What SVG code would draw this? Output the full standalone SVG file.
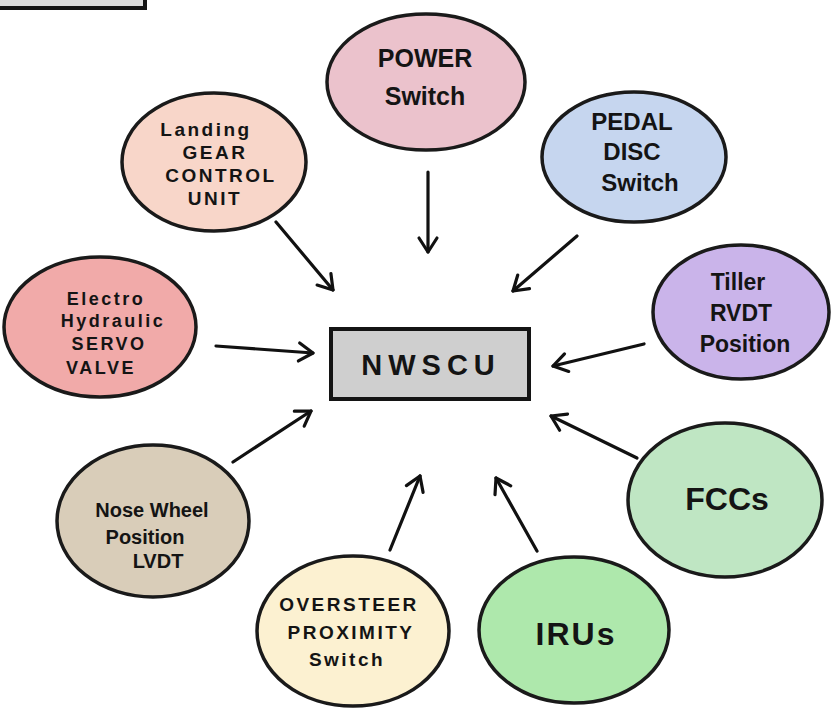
<svg xmlns="http://www.w3.org/2000/svg" width="838" height="708" viewBox="0 0 838 708">
<defs>
<marker id="ah" markerUnits="userSpaceOnUse" markerWidth="24" markerHeight="24" viewBox="0 0 24 24" refX="20" refY="12" orient="auto">
<path d="M6,3 L20,12 L6,21" fill="none" stroke="#111" stroke-width="3.2" stroke-linecap="round" stroke-linejoin="round"/>
</marker>
</defs>
<style>
.n{stroke:#1a1a1a;stroke-width:3.5}
.t{font-family:"Liberation Sans","DejaVu Sans",sans-serif;font-weight:bold;fill:#141414;text-anchor:middle}
.w{letter-spacing:2.5px}
.c{stroke:#111;stroke-width:3.2;fill:none;stroke-linecap:round;marker-end:url(#ah)}
</style>
<rect x="0" y="0" width="838" height="708" fill="#ffffff"/>
<rect x="-6" y="-20" width="151" height="28" fill="#dcdcdc" stroke="#141414" stroke-width="4"/>
<g id="connectors">
<line class="c" x1="276" y1="222" x2="333" y2="290"/>
<line class="c" x1="428" y1="172" x2="428" y2="252"/>
<line class="c" x1="577" y1="236" x2="513" y2="291"/>
<line class="c" x1="644" y1="344" x2="553" y2="366"/>
<line class="c" x1="216" y1="346" x2="313" y2="353"/>
<line class="c" x1="233" y1="462" x2="311" y2="411"/>
<line class="c" x1="390" y1="550" x2="420" y2="476"/>
<line class="c" x1="537" y1="551" x2="496" y2="478"/>
<line class="c" x1="637" y1="458" x2="551" y2="416"/>
</g>
<g id="landing">
<ellipse class="n" cx="214" cy="162" rx="92" ry="69" fill="#f8d6c9"/>
<text class="t w" font-size="19"><tspan x="206" y="136">Landing</tspan><tspan x="215" y="159">GEAR</tspan><tspan x="221" y="182">CONTROL</tspan><tspan x="215" y="205">UNIT</tspan></text>
</g>
<g id="power">
<ellipse class="n" cx="426" cy="82" rx="99" ry="68" fill="#ebc2cc"/>
<text class="t" font-size="25"><tspan x="425" y="67">POWER</tspan><tspan x="425" y="105">Switch</tspan></text>
</g>
<g id="pedal">
<ellipse class="n" cx="634" cy="157" rx="92" ry="65" fill="#c6d6ef"/>
<text class="t" font-size="24"><tspan x="632" y="130">PEDAL</tspan><tspan x="632" y="160">DISC</tspan><tspan x="640" y="191">Switch</tspan></text>
</g>
<g id="electro">
<ellipse class="n" cx="100" cy="327" rx="96" ry="70" fill="#f1aaa9"/>
<text class="t w" font-size="18"><tspan x="106" y="305">Electro</tspan><tspan x="113" y="327">Hydraulic</tspan><tspan x="109" y="350">SERVO</tspan><tspan x="101" y="374">VALVE</tspan></text>
</g>
<g id="tiller">
<ellipse class="n" cx="741" cy="312" rx="88" ry="67" fill="#cab4ea"/>
<text class="t" font-size="23"><tspan x="738" y="290">Tiller</tspan><tspan x="741" y="321">RVDT</tspan><tspan x="745" y="352">Position</tspan></text>
</g>
<g id="nwscu">
<rect x="331" y="329" width="198" height="70" fill="#cfcfcf" stroke="#141414" stroke-width="4"/>
<text class="t" x="431" y="375" font-size="29" letter-spacing="6">NWSCU</text>
</g>
<g id="nose">
<ellipse class="n" cx="153" cy="521" rx="96" ry="76" fill="#d9cdb9"/>
<text class="t" font-size="20"><tspan x="152" y="517">Nose Wheel</tspan><tspan x="145" y="544">Position</tspan><tspan x="158" y="568">LVDT</tspan></text>
</g>
<g id="fccs">
<ellipse class="n" cx="725" cy="500" rx="97" ry="77" fill="#bfe6c3"/>
<text class="t" x="727" y="510" font-size="32">FCCs</text>
</g>
<g id="oversteer">
<ellipse class="n" cx="353" cy="631" rx="96" ry="75" fill="#fcf1d1"/>
<text class="t w" font-size="19"><tspan x="349" y="611">OVERSTEER</tspan><tspan x="351" y="639">PROXIMITY</tspan><tspan x="347" y="666">Switch</tspan></text>
</g>
<g id="irus">
<ellipse class="n" cx="574" cy="630" rx="95" ry="73" fill="#aee8ac"/>
<text class="t" x="576" y="645" font-size="32" letter-spacing="2">IRUs</text>
</g>
</svg>
